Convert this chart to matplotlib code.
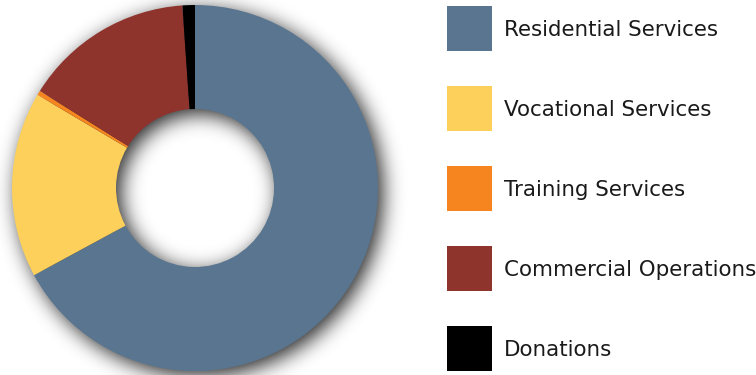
import numpy as np
import matplotlib
matplotlib.use("Agg")
import matplotlib.pyplot as plt
from matplotlib.patches import Rectangle

categories = ["Residential Services", "Vocational Services", "Training Services",
              "Commercial Operations", "Donations"]
values = [67.1, 16.4, 0.4, 15.0, 1.1]
colors = ["#59758F", "#FDD05B", "#F6851F", "#8F332D", "#000000"]

W, H = 756, 375
fig = plt.figure(figsize=(W / 100, H / 100), dpi=100)
ax = fig.add_axes([0, 0, 1, 1])

cx, cy = 195.0, H - 188.0
r_out, r_in = 183.0, 79.0

# blurred drop shadow of the ring
yy, xx = np.mgrid[0:H, 0:W] + 0.5
sx, sy = 5.0, -5.0
d = np.hypot(xx - (cx + sx), yy - (cy + sy))
mask = ((d <= r_out) & (d >= r_in)).astype(float)
sigma = 10.0
k = np.arange(-int(3 * sigma), int(3 * sigma) + 1)
kern = np.exp(-k ** 2 / (2 * sigma ** 2))
kern /= kern.sum()
pad = int(3 * sigma)
mp = np.pad(mask, pad)
blur = np.apply_along_axis(lambda r: np.convolve(r, kern, mode="same"), 1, mp)
blur = np.apply_along_axis(lambda c: np.convolve(c, kern, mode="same"), 0, blur)
blur = blur[pad:-pad, pad:-pad]
rgba = np.zeros((H, W, 4))
rgba[..., 3] = blur * 0.85
ax.imshow(rgba, extent=(0, W, 0, H), origin="lower", zorder=0, interpolation="bilinear")

ax.pie(values, colors=colors, startangle=90, counterclock=False,
       center=(cx, cy), radius=r_out,
       wedgeprops=dict(width=r_out - r_in, linewidth=0), frame=True)

ax.set_xlim(0, W)
ax.set_ylim(0, H)
ax.set_aspect("equal")
ax.axis("off")

# legend
lx, ly0, sq, step = 447, 6, 45, 80
for i, (lab, col) in enumerate(zip(categories, colors)):
    top = ly0 + i * step
    ax.add_patch(Rectangle((lx, H - top - sq), sq, sq, facecolor=col,
                           edgecolor="none", zorder=3))
    ax.text(lx + sq + 12, H - top - 30, lab, fontsize=15.4,
            family="DejaVu Sans", color="#1a1a1a", va="baseline", ha="left", zorder=3)

fig.savefig("out.png", dpi=100)
